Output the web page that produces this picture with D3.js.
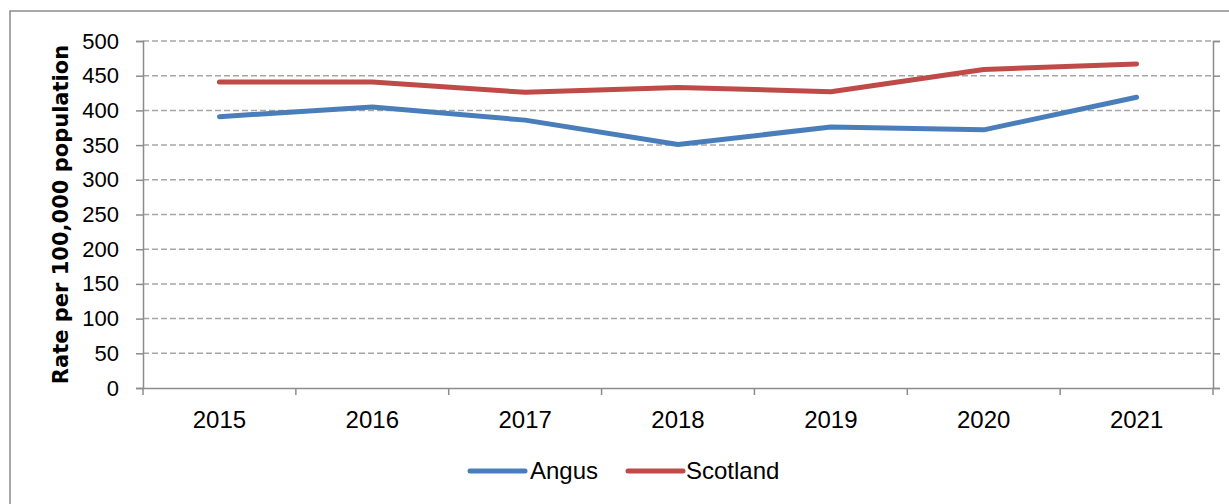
<!DOCTYPE html>
<html><head><meta charset="utf-8">
<script src="https://cdn.jsdelivr.net/npm/d3@7"></script>
<style>body{margin:0;background:#fff}svg{display:block}</style>
</head><body>
<svg id="c" width="1229" height="504"></svg>
<script>
const years = ["2015","2016","2017","2018","2019","2020","2021"];
const angus = [391, 405, 386, 351, 376, 372, 419];
const scotland = [441, 441, 426, 433, 427, 459, 467];
const yTicks = [0,50,100,150,200,250,300,350,400,450,500];
const seriesNames = ["Angus","Scotland"];
const colors = ["#4a7ebb","#be4b48"];

const svg = d3.select("#c");
const font = "'Liberation Sans', Arial, sans-serif";
const boldFont = "'DejaVu Sans', sans-serif";
const L = 143, R = 1213, T = 41, B = 388;

// outer border
svg.append("rect").attr("x",10).attr("y",11).attr("width",1240).attr("height",520)
  .attr("fill","none").attr("stroke","#8c8c8c").attr("stroke-width",1.5);

const x = d3.scaleBand().domain(years).range([L,R]).padding(0);
const y = d3.scaleLinear().domain([0,500]).range([B,T]);

// gridlines
svg.append("g").selectAll("line").data(yTicks.filter(d=>d>0)).join("line")
  .attr("x1",L).attr("x2",R).attr("y1",d=>y(d)).attr("y2",d=>y(d))
  .attr("stroke","#a6a6a6").attr("stroke-width",1.5).attr("stroke-dasharray","6,3");

// left axis
const ya = svg.append("g").attr("transform",`translate(${L},0)`)
  .call(d3.axisLeft(y).tickValues(yTicks).tickSize(7).tickPadding(17));
ya.select(".domain").attr("stroke","#8c8c8c").attr("stroke-width",1.5);
ya.selectAll(".tick line").attr("stroke","#8c8c8c").attr("stroke-width",1.5);
ya.selectAll("text").attr("font-family",font).attr("font-size",22).attr("fill","#000");

// right axis
const yr = svg.append("g").attr("transform",`translate(${R},0)`)
  .call(d3.axisRight(y).tickValues(yTicks).tickSize(7).tickFormat(""));
yr.select(".domain").attr("stroke","#8c8c8c").attr("stroke-width",1.5);
yr.selectAll(".tick line").attr("stroke","#8c8c8c").attr("stroke-width",1.5);

// bottom axis
const xb = svg.append("g").attr("transform",`translate(0,${B})`)
  .call(d3.axisBottom(x).tickSize(0));
xb.select(".domain").attr("stroke","#8c8c8c").attr("stroke-width",1.5);
xb.selectAll("text").attr("font-family",font).attr("font-size",24).attr("fill","#000")
  .attr("y",40).attr("dy",0);
const bounds = years.map(d=>x(d)).concat([R]);
svg.append("g").selectAll("line").data(bounds).join("line")
  .attr("x1",d=>d).attr("x2",d=>d).attr("y1",B).attr("y2",B+7)
  .attr("stroke","#8c8c8c").attr("stroke-width",1.5);

// y label
svg.append("text").attr("transform",`translate(68,${(T+B)/2}) rotate(-90)`)
  .attr("text-anchor","middle").attr("font-family",boldFont).attr("font-weight","bold")
  .attr("font-size",21).text("Rate per 100,000 population");

// lines
const line = d3.line().x((d,i)=>x(years[i])+x.bandwidth()/2).y(d=>y(d));
[angus, scotland].forEach((s,i)=>{
  svg.append("path").datum(s).attr("d",line).attr("fill","none")
    .attr("stroke",colors[i]).attr("stroke-width",5).attr("stroke-linecap","round")
    .attr("stroke-linejoin","round");
});

// legend
const lg = [{x:470,tx:530},{x:628,tx:686}];
seriesNames.forEach((n,i)=>{
  svg.append("line").attr("x1",lg[i].x).attr("x2",lg[i].x+55).attr("y1",471).attr("y2",471)
    .attr("stroke",colors[i]).attr("stroke-width",5).attr("stroke-linecap","round");
  svg.append("text").attr("x",lg[i].tx).attr("y",479).attr("font-family",font)
    .attr("font-size",24).attr("fill","#000").text(n);
});
</script>
</body></html>
